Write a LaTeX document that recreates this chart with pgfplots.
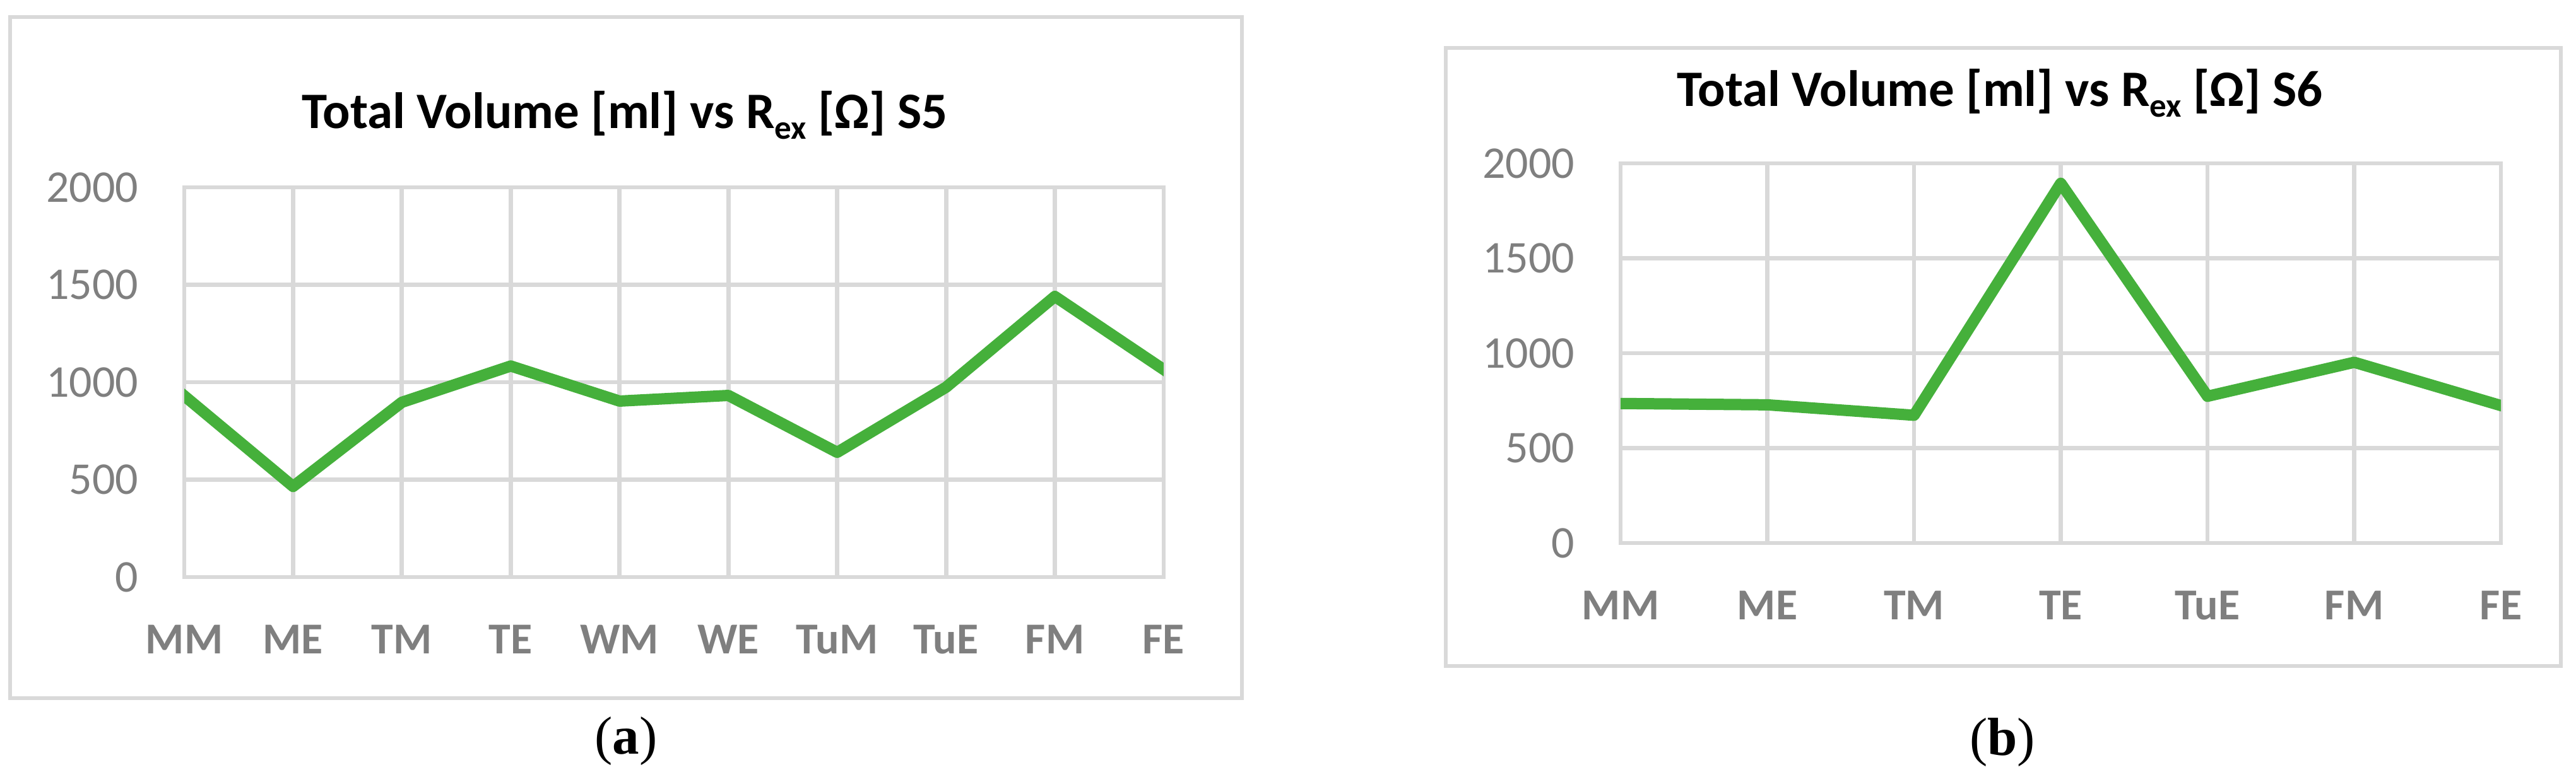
\documentclass[border=0pt]{standalone}
\usepackage{pgfplots}
\pgfplotsset{compat=1.18}
\usepackage{fontspec}
\setmainfont{Carlito}
\newfontfamily\capfont{Liberation Serif}
\definecolor{gridc}{RGB}{217,217,217}
\definecolor{tickc}{RGB}{127,127,127}
\definecolor{linec}{RGB}{69,176,59}

\pgfplotstableread{
x y
0 930
1 465
2 897
3 1083
4 903
5 932
6 640
7 974
8 1440
9 1065
}\dataA

\pgfplotstableread{
x y
0 735
1 728
2 673
3 1895
4 773
5 952
6 724
}\dataB

\pgfplotsset{
  excelstyle/.style={
    scale only axis,
    ymin=0, ymax=2000,
    ytick={0,500,1000,1500,2000},
    xtick=data,
    grid=major,
    major grid style={draw=gridc, line width=0.68pt},
    axis line style={draw=gridc, line width=0.68pt},
    major tick length=0pt,
    /pgf/number format/assume math mode=true,
    yticklabel style={font=\fontsize{7.2}{8}\selectfont, text=tickc, anchor=east, inner sep=0pt, xshift=-7.1pt},
    xticklabel style={font=\fontsize{7.0}{8}\selectfont\bfseries, text=tickc, anchor=north, inner sep=0pt, yshift=-7.4pt},
    scaled y ticks=false,
    /pgf/number format/1000 sep={},
    clip=true,
  }
}

\begin{document}
\begin{tikzpicture}
\useasboundingbox (0,0) rectangle (408.2pt,123.1pt);
% panel (a)
\draw[gridc, line width=0.6pt] (1.6pt,12.4pt) rectangle (196.8pt,120.4pt);
\node[anchor=base, inner sep=0pt] at (99.0pt,102.7pt) {\fontsize{8.1}{9}\selectfont\bfseries Total Volume [ml] vs R\raisebox{-1.7pt}{\fontsize{5.3}{6}\selectfont ex} [Ω] S5};
\begin{axis}[excelstyle,
  at={(29.2pt,31.6pt)}, anchor=south west,
  width=155.2pt, height=61.8pt,
  xmin=0, xmax=9,
  xticklabels={MM,ME,TM,TE,WM,WE,TuM,TuE,FM,FE},
]
\addplot[linec, line width=1.8pt, line join=round, line cap=rect] table[x=x,y=y] {\dataA};
\end{axis}
\node[anchor=base, inner sep=0pt] at (99.2pt,3.6pt) {\capfont\fontsize{8.5}{10}\selectfont(\textbf{a})};
% panel (b)
\draw[gridc, line width=0.6pt] (229.1pt,17.5pt) rectangle (405.8pt,115.5pt);
\node[anchor=base, inner sep=0pt] at (316.9pt,106.2pt) {\fontsize{8.1}{9}\selectfont\bfseries Total Volume [ml] vs R\raisebox{-1.7pt}{\fontsize{5.3}{6}\selectfont ex} [Ω] S6};
\begin{axis}[excelstyle,
  at={(256.8pt,37.0pt)}, anchor=south west,
  width=139.5pt, height=60.2pt,
  xmin=0, xmax=6,
  xticklabels={MM,ME,TM,TE,TuE,FM,FE},
]
\addplot[linec, line width=1.8pt, line join=round, line cap=rect] table[x=x,y=y] {\dataB};
\end{axis}
\node[anchor=base, inner sep=0pt] at (317.3pt,3.4pt) {\capfont\fontsize{8.5}{10}\selectfont(\textbf{b})};
\end{tikzpicture}
\end{document}
